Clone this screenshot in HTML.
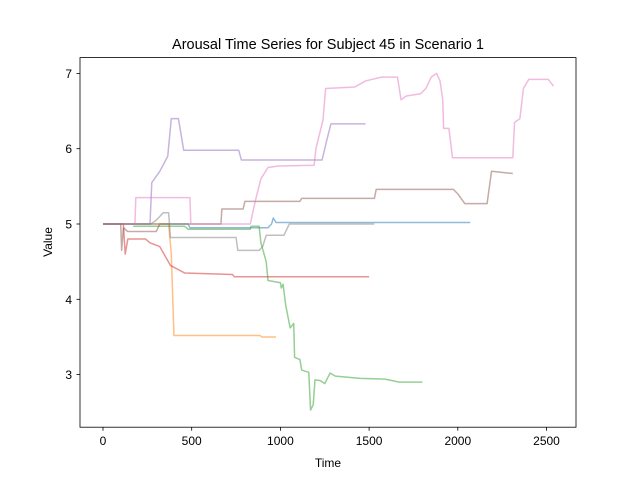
<!DOCTYPE html>
<html><head><meta charset="utf-8"><style>
body{margin:0;background:#fff;}
svg{font-family:"Liberation Sans","DejaVu Sans",sans-serif;}
</style></head><body>
<svg id="chart" width="640" height="480" xmlns="http://www.w3.org/2000/svg">
<rect x="0" y="0" width="640" height="480" fill="#fff"/>
<text x="328" y="49" font-size="14.5" text-anchor="middle">Arousal Time Series for Subject 45 in Scenario 1</text>
<g id="series"></g>
<g id="axes"></g>
<text x="328" y="467" font-size="12" text-anchor="middle">Time</text>
<text transform="translate(52,242) rotate(-90)" font-size="12" text-anchor="middle">Value</text>
</svg>
<script>
const xTicks=[0,500,1000,1500,2000,2500];
const yTicks=[3,4,5,6,7];
const blue=[[0,5],[480,5],[490,4.95],[930,4.95],[950,5.0],[960,5.08],[975,5.02],[2070,5.02]];
const orange=[[0,5],[370,5],[385,4.6],[400,3.52],[885,3.52],[895,3.5],[975,3.5]];
const green=[[170,4.97],[460,4.97],[480,4.93],[830,4.93],[835,4.97],[880,4.97],[890,4.75],[920,4.5],[930,4.25],[1000,4.22],[1005,4.15],[1015,4.2],[1030,3.92],[1055,3.62],[1075,3.68],[1080,3.23],[1110,3.2],[1120,3.06],[1160,3.03],[1170,2.53],[1185,2.6],[1195,2.93],[1225,2.92],[1250,2.88],[1280,3.02],[1310,2.98],[1450,2.95],[1590,2.94],[1670,2.9],[1800,2.9]];
const red=[[0,5],[115,5],[125,4.6],[140,4.8],[240,4.8],[265,4.75],[320,4.7],[380,4.45],[460,4.35],[730,4.33],[740,4.3],[1500,4.3]];
const purple=[[0,5],[265,5],[275,5.55],[320,5.7],[365,5.9],[385,6.4],[425,6.4],[455,5.98],[765,5.98],[780,5.85],[1235,5.85],[1260,6.1],[1285,6.33],[1480,6.33]];
const brown=[[0,5],[100,5],[105,4.65],[115,4.95],[140,4.9],[300,4.9],[320,5.0],[665,5.0],[670,5.2],[790,5.2],[800,5.3],[1110,5.3],[1120,5.34],[1530,5.34],[1540,5.46],[1975,5.46],[2000,5.4],[2040,5.27],[2165,5.27],[2190,5.7],[2310,5.67]];
const pink=[[0,5],[180,5],[185,5.35],[490,5.35],[495,5],[830,5],[860,5.32],[890,5.6],[930,5.75],[990,5.77],[1190,5.78],[1200,6.0],[1240,6.38],[1255,6.8],[1420,6.82],[1480,6.9],[1570,6.95],[1660,6.95],[1680,6.65],[1710,6.7],[1790,6.73],[1820,6.8],[1850,6.95],[1880,7.0],[1900,6.9],[1915,6.65],[1920,6.27],[1950,6.27],[1970,5.88],[2310,5.88],[2320,6.35],[2350,6.4],[2370,6.8],[2400,6.92],[2510,6.92],[2540,6.83]];
const gray=[[0,5],[270,5],[300,5.05],[340,5.15],[370,5.15],[380,4.82],[750,4.82],[760,4.65],[880,4.65],[900,4.7],[920,4.85],[1020,4.85],[1050,5.0],[1530,5.0]];
const seriesNames=['series-blue','series-orange','series-green','series-red','series-purple','series-brown','series-pink','series-gray'];
const NS='http://www.w3.org/2000/svg';
function xs(t){return 103+t*0.1774;}
function ys(v){return 224-(v-5)*75.3;}
const allSeries=[blue,orange,green,red,purple,brown,pink,gray];
const colors=['#1f77b4','#ff7f0e','#2ca02c','#d62728','#9467bd','#8c564b','#e377c2','#7f7f7f'];
const sg=document.getElementById('series');
allSeries.forEach((s,i)=>{
  const p=document.createElementNS(NS,'polyline');
  p.setAttribute('points',s.map(d=>xs(d[0]).toFixed(2)+','+ys(d[1]).toFixed(2)).join(' '));
  p.setAttribute('fill','none');p.setAttribute('stroke',colors[i]);
  p.setAttribute('stroke-opacity','0.5');p.setAttribute('stroke-width','1.5');
  p.setAttribute('stroke-linejoin','round');
  
  
  sg.appendChild(p);
});
const ag=document.getElementById('axes');
let h='<rect x="80" y="57.6" width="496" height="369.6" fill="none" stroke="#000" stroke-width="0.8"/>';
ag.innerHTML=h;
xTicks.forEach(t=>{
  const x=xs(t);
  const l=document.createElementNS(NS,'line');
  l.setAttribute('x1',x);l.setAttribute('x2',x);l.setAttribute('y1',427.2);l.setAttribute('y2',430.7);l.setAttribute('stroke','#000');l.setAttribute('stroke-width','0.8');
  
  
  ag.appendChild(l);
  const tx=document.createElementNS(NS,'text');
  tx.setAttribute('x',x);tx.setAttribute('y',445);tx.setAttribute('font-size','12');tx.setAttribute('text-anchor','middle');
  tx.textContent=t;
  
  
  ag.appendChild(tx);
});
yTicks.forEach(v=>{
  const y=ys(v);
  const l=document.createElementNS(NS,'line');
  l.setAttribute('x1',76.5);l.setAttribute('x2',80);l.setAttribute('y1',y);l.setAttribute('y2',y);l.setAttribute('stroke','#000');l.setAttribute('stroke-width','0.8');
  
  
  ag.appendChild(l);
  const tx=document.createElementNS(NS,'text');
  tx.setAttribute('x',72);tx.setAttribute('y',y+4.5);tx.setAttribute('font-size','12');tx.setAttribute('text-anchor','end');
  tx.textContent=v;
  
  
  ag.appendChild(tx);
});
</script>
</body></html>
